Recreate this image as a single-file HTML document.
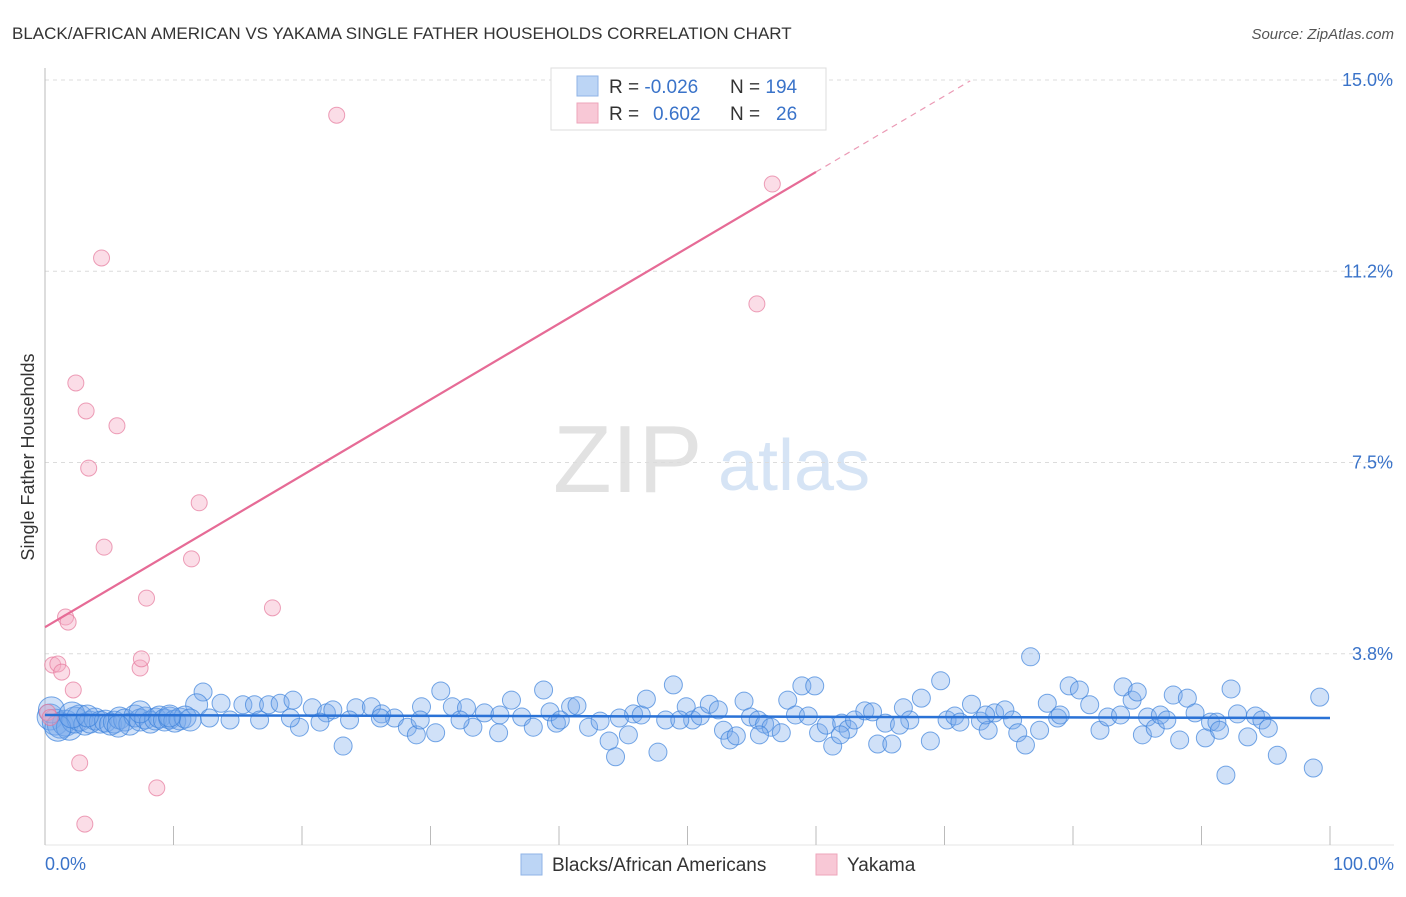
<!DOCTYPE html>
<html><head><meta charset="utf-8"><style>
body{margin:0;background:#fff;font-family:"Liberation Sans",sans-serif}
svg text{font-family:"Liberation Sans",sans-serif}
</style></head><body>
<svg id="chart" width="1406" height="892" xmlns="http://www.w3.org/2000/svg">
<text x="12" y="39" font-size="17" fill="#333">BLACK/AFRICAN AMERICAN VS YAKAMA SINGLE FATHER HOUSEHOLDS CORRELATION CHART</text>
<text x="1394" y="39" font-size="15" fill="#555" font-style="italic" text-anchor="end">Source: ZipAtlas.com</text>
<g>
<text x="553" y="492" font-size="96" fill="#e2e2e2" font-family="Liberation Serif">ZIP</text>
<text x="718" y="490" font-size="72" fill="#d6e4f5">atlas</text>
</g>
<g id="grid"></g><g id="axes"></g><g id="marks"></g>
<text transform="translate(34,457) rotate(-90)" font-size="18" fill="#333" text-anchor="middle">Single Father Households</text>
<text x="45" y="870" font-size="18" fill="#3a73c9">0.0%</text>
<text x="1394" y="870" font-size="18" fill="#3a73c9" text-anchor="end">100.0%</text>
<g>
<rect x="521" y="854" width="21" height="21" fill="#bcd5f5" stroke="#8fb3e6"/>
<text x="552" y="871" font-size="19" fill="#333">Blacks/African Americans</text>
<rect x="816" y="854" width="21" height="21" fill="#f8c8d6" stroke="#eea6bb"/>
<text x="847" y="871" font-size="19" fill="#333">Yakama</text>
</g>
<g>
<rect x="551" y="68" width="275" height="62" fill="#fff" stroke="#ddd"/>
<rect x="577" y="76" width="21" height="20" fill="#bcd5f5" stroke="#8fb3e6"/>
<rect x="577" y="103" width="21" height="20" fill="#f8c8d6" stroke="#eea6bb"/>
<text x="609" y="93" font-size="19" fill="#333">R = <tspan fill="#3a73c9">-0.026</tspan><tspan x="730">N = </tspan><tspan fill="#3a73c9">194</tspan></text>
<text x="609" y="120" font-size="19" fill="#333">R = <tspan x="653" fill="#3a73c9">0.602</tspan><tspan x="730">N = </tspan><tspan x="776" fill="#3a73c9">26</tspan></text>
</g>
</svg>
<script>
const yTickValues=[15,11.25,7.5,3.75];
const yTickLabels=["15.0%","11.2%","7.5%","3.8%"];
const xTickValues=[0,10,20,30,40,50,60,70,80,90,100];
const pinkX=[0.6,1.0,1.3,2.2,2.7,3.1,1.6,1.8,2.4,3.2,3.4,4.4,4.6,5.6,7.4,7.5,7.9,11.4,12.0,8.7,17.7,22.7,55.4,56.6,0.2,0.4];
const pinkY=[3.53,3.55,3.39,3.04,1.61,0.41,4.47,4.37,9.06,8.51,7.39,11.51,5.84,8.22,3.47,3.65,4.84,5.61,6.71,1.12,4.65,14.31,10.61,12.96,2.6,2.5];
const blueX=[12.3,11.8,13.7,15.4,16.3,17.4,18.3,19.3,19.8,20.8,21.9,22.4,23.2,24.2,25.4,26.2,27.2,28.2,28.9,29.3,30.4,30.8,31.7,32.8,33.3,34.2,35.3,36.3,37.1,38.0,38.8,39.3,39.8,40.9,41.4,42.3,43.2,43.9,44.4,45.4,45.8,46.4,46.8,47.7,48.3,48.9,49.9,50.4,51.0,51.7,52.4,52.8,53.3,53.8,54.4,54.9,55.5,56.0,56.5,57.3,57.8,58.4,58.9,59.4,59.9,60.2,60.8,61.3,62.0,62.5,63.0,63.8,64.4,64.8,65.4,65.9,66.8,67.3,68.2,68.9,69.7,70.2,70.8,71.2,72.1,72.8,73.4,73.9,74.7,75.3,75.7,76.7,76.3,77.4,78.0,78.8,79.7,80.5,81.3,82.1,82.7,83.9,84.6,85.0,85.4,85.8,86.4,86.8,87.8,88.3,88.9,89.5,90.3,90.7,91.2,91.9,92.3,92.8,93.6,94.2,94.7,95.2,95.9,98.7,99.2,91.4,87.3,83.7,79.0,73.2,66.5,61.9,55.6,49.4,44.7,40.1,35.4,32.3,29.2,26.1,23.7,21.4,19.1,16.7,14.4,12.8,0.4,0.8,1.2,1.6,1.9,2.3,2.7,3.1,3.5,3.9,4.3,4.7,5.1,5.4,5.8,6.2,6.6,7.0,7.4,7.8,8.2,8.6,8.9,9.3,9.7,10.1,10.5,10.9,11.3,0.5,1.0,2.1,3.3,5.7,7.4,9.7];
const blueY=[3.00,2.75,2.78,2.75,2.75,2.75,2.78,2.84,2.31,2.69,2.59,2.65,1.94,2.69,2.71,2.57,2.49,2.31,2.16,2.71,2.20,3.02,2.71,2.69,2.31,2.59,2.20,2.84,2.51,2.31,3.04,2.61,2.39,2.71,2.73,2.31,2.43,2.04,1.73,2.16,2.57,2.55,2.86,1.82,2.45,3.14,2.71,2.45,2.53,2.76,2.65,2.25,2.06,2.14,2.82,2.51,2.45,2.37,2.31,2.20,2.84,2.55,3.12,2.53,3.12,2.20,2.35,1.94,2.39,2.27,2.45,2.63,2.61,1.98,2.39,1.98,2.69,2.45,2.88,2.04,3.22,2.45,2.53,2.41,2.76,2.43,2.25,2.59,2.65,2.45,2.20,3.69,1.96,2.25,2.78,2.49,3.12,3.04,2.75,2.25,2.51,3.10,2.84,3.00,2.16,2.51,2.29,2.55,2.94,2.06,2.88,2.59,2.10,2.41,2.41,1.37,3.06,2.57,2.12,2.53,2.45,2.29,1.76,1.51,2.90,2.25,2.45,2.55,2.55,2.55,2.35,2.16,2.16,2.45,2.49,2.45,2.55,2.45,2.45,2.49,2.45,2.41,2.49,2.45,2.45,2.49,2.51,2.41,2.35,2.39,2.31,2.45,2.49,2.37,2.41,2.47,2.41,2.43,2.37,2.41,2.49,2.45,2.37,2.53,2.45,2.49,2.41,2.47,2.51,2.45,2.49,2.43,2.47,2.51,2.45,2.65,2.29,2.55,2.53,2.33,2.61,2.53];
const pinkTrend=[4.27,0.1488];
const blueTrend=[2.55,-0.0006];
const X0=45,X1=1330,Y0=845,YPX=765/15;
const sx=v=>X0+(X1-X0)*v/100, sy=v=>Y0-v*YPX;
const NS="http://www.w3.org/2000/svg";
function mk(t,a,p){const e=document.createElementNS(NS,t);for(const k in a)e.setAttribute(k,a[k]);p.appendChild(e);return e;}
const grid=document.getElementById('grid'),axes=document.getElementById('axes'),marks=document.getElementById('marks');
yTickValues.forEach((v,i)=>{
 const l=mk('line',{x1:X0,x2:1394,y1:sy(v),y2:sy(v),stroke:'#dcdcdc','stroke-dasharray':'4,4'},grid);
 
 
 const t=mk('text',{x:1393,y:sy(v)+6,'font-size':18,fill:'#3a73c9','text-anchor':'end'},axes);
 t.textContent=yTickLabels[i];
 
 
});
const ax=mk('line',{x1:X0,x2:X0,y1:68,y2:Y0,stroke:'#bbb'},axes);


const bx=mk('line',{x1:X0,x2:1394,y1:Y0,y2:Y0,stroke:'#e6e6e6'},axes);


xTickValues.forEach(v=>{
 const t=mk('line',{x1:sx(v),x2:sx(v),y1:826,y2:Y0,stroke:'#bbb'},axes);
 
 
});
blueX.forEach((x,i)=>{
 const r=x<3?13:(x<12?11:9);
 const c=mk('circle',{cx:sx(x),cy:sy(blueY[i]),r:r,fill:'rgba(120,170,235,0.35)',stroke:'rgba(60,130,220,0.7)','stroke-width':1},marks);
 
 
});
pinkX.forEach((x,i)=>{
 const c=mk('circle',{cx:sx(x),cy:sy(pinkY[i]),r:8,fill:'rgba(245,170,195,0.4)',stroke:'rgba(230,120,155,0.7)','stroke-width':1},marks);
 
 
});
const bt=mk('line',{x1:sx(0),y1:sy(blueTrend[0]),x2:sx(100),y2:sy(blueTrend[0]+blueTrend[1]*100),stroke:'#2a72d6','stroke-width':2.5},marks);


const pt=mk('line',{x1:sx(0),y1:sy(pinkTrend[0]),x2:sx(60),y2:sy(pinkTrend[0]+pinkTrend[1]*60),stroke:'#e66b96','stroke-width':2.2},marks);


const pd=mk('line',{x1:sx(60),y1:sy(pinkTrend[0]+pinkTrend[1]*60),x2:sx(72),y2:sy(pinkTrend[0]+pinkTrend[1]*72),stroke:'#eb9ab5','stroke-width':1.2,'stroke-dasharray':'6,5'},marks);


</script>
</body></html>
